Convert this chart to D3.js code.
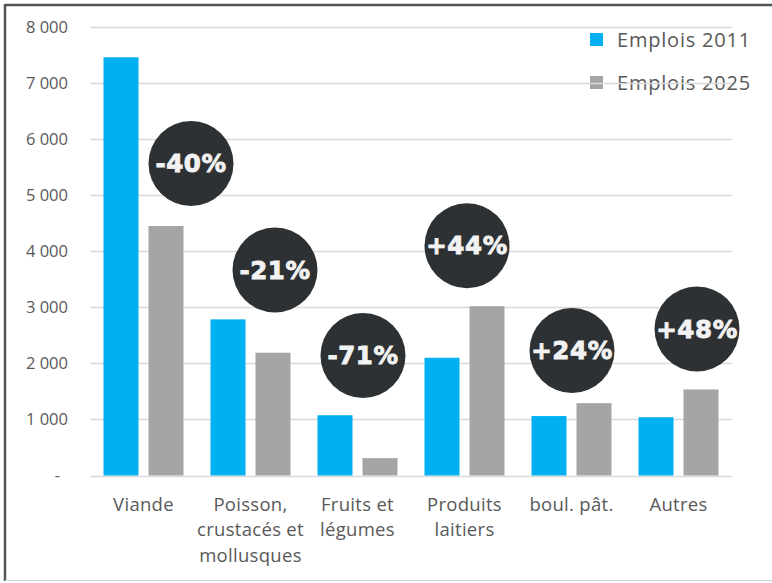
<!DOCTYPE html>
<html>
<head>
<meta charset="utf-8">
<script src="https://cdn.jsdelivr.net/npm/d3@7"></script>
<style>
  html, body { margin: 0; padding: 0; background: #fff; }
  svg { display: block; }
</style>
</head>
<body>
<svg id="chart"></svg>
<script>
'use strict'

// data
var categories = ["Viande", "Poisson, crustacés et mollusques", "Fruits et légumes", "Produits laitiers", "boul. pât.", "Autres"];
var categoryLines = [["Viande"], ["Poisson,", "crustacés et", "mollusques"], ["Fruits et", "légumes"], ["Produits", "laitiers"], ["boul. pât."], ["Autres"]];
var series = ["Emplois 2011", "Emplois 2025"];
var emplois2011 = [7460, 2785, 1075, 2100, 1060, 1040];
var emplois2025 = [4450, 2190, 310, 3020, 1290, 1535];
var changeLabels = ["-40%", "-21%", "-71%", "+44%", "+24%", "+48%"];
var yTicks = [0, 1000, 2000, 3000, 4000, 5000, 6000, 7000, 8000];
var yTickLabels = ["-", "1 000", "2 000", "3 000", "4 000", "5 000", "6 000", "7 000", "8 000"];

// badge placement (value units for y, px offset from 2025 bar for x)
var badgeY = [5565, 3665, 2140, 4100, 2230, 2615];
var badgeDx = [25, 2, -17, -20, -22, -4];

var width = 772, height = 583;
var blue = "#00B0F0", gray = "#A5A5A5", textCol = "#595959";

var svg = d3.select("#chart").attr("width", width).attr("height", height);

svg.append("rect").attr("width", width).attr("height", height).attr("fill", "#fff");

var x = d3.scaleBand().domain(categories).range([90, 732]);
var xs = d3.scaleBand().domain(series).range([0, x.bandwidth()])
    .paddingInner(0.222).paddingOuter(0.3);
var y = d3.scaleLinear().domain([0, 8000]).range([475.5, 27]);
var color = d3.scaleOrdinal().domain(series).range([blue, gray]);

// legend (drawn under gridlines, as in the reference)
var legend = svg.append("g").attr("class", "legend");
series.forEach(function (s, i) {
    var ly = 40 + i * 43;
    legend.append("rect")
        .attr("x", 590).attr("y", ly - 7).attr("width", 13).attr("height", 13)
        .attr("fill", color(s));
    legend.append("text")
        .attr("x", 617).attr("y", ly + 7)
        .attr("font-family", "'Open Sans', sans-serif")
        .attr("font-size", 20)
        .attr("letter-spacing", 0.8)
        .attr("fill", textCol)
        .text(s);
});

// gridlines
svg.append("g").attr("class", "grid")
    .selectAll("line")
    .data(yTicks)
    .enter().append("line")
    .attr("x1", 90).attr("x2", 732)
    .attr("y1", function (d) { return Math.round(y(d)) + 0.5; })
    .attr("y2", function (d) { return Math.round(y(d)) + 0.5; })
    .attr("stroke", "#D9D9D9")
    .attr("stroke-width", 1.5);

// y axis labels
var yAxis = d3.axisLeft(y).tickValues(yTicks)
    .tickFormat(function (d, i) { return yTickLabels[i]; })
    .tickSize(0).tickPadding(0);
var yg = svg.append("g").attr("transform", "translate(68,0)").call(yAxis);
yg.select(".domain").remove();
yg.selectAll("text")
    .attr("font-family", "'Open Sans', sans-serif")
    .attr("font-size", 16.5)
    .attr("fill", textCol)
    .attr("dx", function (d) { return d === 0 ? -8 : 0; });

// bars
var groups = svg.append("g").attr("class", "bars")
    .selectAll("g")
    .data(categories)
    .enter().append("g")
    .attr("transform", function (d) { return "translate(" + x(d) + ",0)"; });

groups.selectAll("rect")
    .data(function (d, i) {
        return [
            { s: series[0], v: emplois2011[i] },
            { s: series[1], v: emplois2025[i] }
        ];
    })
    .enter().append("rect")
    .attr("x", function (d) { return xs(d.s); })
    .attr("y", function (d) { return y(d.v); })
    .attr("width", xs.bandwidth())
    .attr("height", function (d) { return y(0) - y(d.v); })
    .attr("fill", function (d) { return color(d.s); });

// category labels
var cl = svg.append("g").attr("class", "cats")
    .selectAll("text")
    .data(categories)
    .enter().append("text")
    .attr("x", function (d) { return x(d) + x.bandwidth() / 2; })
    .attr("y", 510.5)
    .attr("text-anchor", "middle")
    .attr("font-family", "'Open Sans', sans-serif")
    .attr("font-size", 18.5)
    .attr("letter-spacing", 0.3)
    .attr("fill", textCol);
cl.selectAll("tspan")
    .data(function (d, i) { return categoryLines[i]; })
    .enter().append("tspan")
    .attr("x", function () { return d3.select(this.parentNode).attr("x"); })
    .attr("dy", function (d, i) { return i === 0 ? 0 : 25.5; })
    .text(function (d) { return d; });

// change badges
var badges = svg.append("g").attr("class", "badges")
    .selectAll("g")
    .data(categories)
    .enter().append("g")
    .attr("transform", function (d, i) {
        var cx = x(d) + xs(series[1]) + xs.bandwidth() / 2 + badgeDx[i];
        return "translate(" + cx + "," + y(badgeY[i]) + ")";
    });
badges.append("circle")
    .attr("r", 42.5)
    .attr("fill", "#2E3133");
badges.append("text")
    .attr("text-anchor", "middle")
    .attr("dy", "0.36em")
    .attr("font-family", "'DejaVu Sans', sans-serif")
    .attr("font-weight", "bold")
    .attr("font-size", 24.5)
    .attr("letter-spacing", 0.6)
    .attr("fill", "#F2F2F2")
    .attr("stroke", "#F2F2F2")
    .attr("stroke-width", 0.9)
    .text(function (d, i) { return changeLabels[i]; });

// frame
svg.append("line").attr("x1", 5).attr("x2", width).attr("y1", 5).attr("y2", 5)
    .attr("stroke", "#4F5457").attr("stroke-width", 2.5);
svg.append("line").attr("x1", 5).attr("x2", 5).attr("y1", 4).attr("y2", 581)
    .attr("stroke", "#4F5457").attr("stroke-width", 2.5);
svg.append("line").attr("x1", 5).attr("x2", width).attr("y1", 580.5).attr("y2", 580.5)
    .attr("stroke", "#D0D0D0").attr("stroke-width", 1);
</script>
</body>
</html>
